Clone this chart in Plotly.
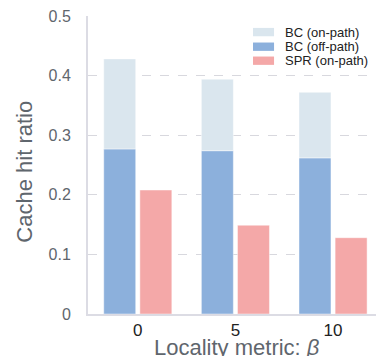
import plotly.graph_objects as go

# Locality metric values and measured cache hit ratios
beta_labels = ["0", "5", "10"]
bc_off_path = [0.277, 0.274, 0.262]
bc_on_path = [0.151, 0.120, 0.110]   # stacked on top of off-path hits
spr_on_path = [0.208, 0.149, 0.128]

series_names = ["BC (on-path)", "BC (off-path)", "SPR (on-path)"]
series_colors = ["#dae6ee", "#8cb0dc", "#f4a8a8"]

x_title = "Locality metric: <i>β</i>"
y_title = "Cache hit ratio"

xpos = list(range(len(beta_labels)))
font_family = "Liberation Sans, Arial, Helvetica, sans-serif"
title_color = "#5f666d"
edge = dict(width=1, color="rgba(255,255,255,0.45)")

fig = go.Figure()
fig.add_trace(go.Bar(
    x=xpos, y=bc_off_path, name=series_names[1], offsetgroup="bc",
    marker=dict(color=series_colors[1], line=edge), showlegend=False,
))
fig.add_trace(go.Bar(
    x=xpos, y=bc_on_path, base=bc_off_path, name=series_names[0], offsetgroup="bc",
    marker=dict(color=series_colors[0], line=edge), showlegend=False,
))
fig.add_trace(go.Bar(
    x=xpos, y=spr_on_path, name=series_names[2], offsetgroup="spr",
    marker=dict(color=series_colors[2], line=edge), showlegend=False,
))

# Legend drawn as wide swatches with labels in the upper right
shapes = []
annotations = []
row_y = [0.946, 0.897, 0.850]
for name, color, yc in zip(series_names, series_colors, row_y):
    shapes.append(dict(
        type="rect", xref="paper", yref="paper",
        x0=0.573, x1=0.646, y0=yc - 0.014, y1=yc + 0.014,
        fillcolor=color, line=dict(width=0), layer="above",
    ))
    annotations.append(dict(
        xref="paper", yref="paper", x=0.677, y=yc, text=name,
        xanchor="left", yanchor="middle", showarrow=False,
        font=dict(size=13, color="#222222", family=font_family),
    ))

# Axis titles
annotations.append(dict(
    xref="paper", yref="paper", x=0.517, y=-0.064, text=x_title,
    xanchor="center", yanchor="top", showarrow=False,
    font=dict(size=22, color=title_color, family=font_family),
))
annotations.append(dict(
    xref="paper", yref="paper", x=-0.219, y=0.4775, text=y_title, textangle=-90,
    xanchor="center", yanchor="middle", showarrow=False,
    font=dict(size=22, color=title_color, family=font_family),
))

fig.update_layout(
    width=376, height=356,
    margin=dict(l=88, r=0, t=16, b=42),
    plot_bgcolor="white", paper_bgcolor="white",
    barmode="group", bargap=0.26, bargroupgap=0.115,
    font=dict(family=font_family),
    shapes=shapes, annotations=annotations,
    xaxis=dict(
        range=[-0.51, 2.44], tickmode="array", tickvals=xpos, ticktext=beta_labels,
        tickfont=dict(size=17, color="#222222"), ticks="", ticklabelstandoff=0,
        showgrid=False, zeroline=False,
        showline=True, linecolor="#dcdce4", linewidth=2,
    ),
    yaxis=dict(
        range=[0, 0.5], tickvals=[0, 0.1, 0.2, 0.3, 0.4, 0.5],
        ticktext=["0", "0.1", "0.2", "0.3", "0.4", "0.5"],
        tickfont=dict(size=16, color=title_color), ticks="", ticklabelstandoff=12,
        showgrid=True, gridcolor="#d8d8de", griddash="dash", gridwidth=1,
        zeroline=False, showline=True, linecolor="#dcdce4", linewidth=2,
    ),
)

fig.write_html("out.html")
